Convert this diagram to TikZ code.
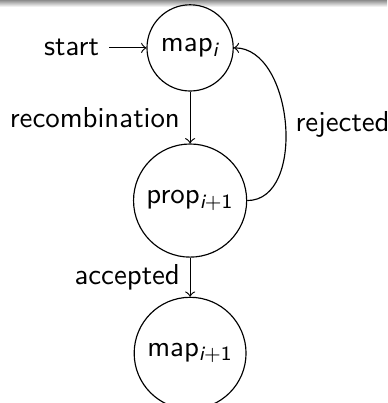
\documentclass[tikz,border=0pt]{standalone}
\usepackage{tikz}
\usetikzlibrary{positioning,automata}

\begin{document}
\begin{tikzpicture}[node distance=1.86cm,on grid,font=\sffamily]
  \useasboundingbox (-65.9pt,-123.1pt) rectangle (68.3pt,16.6pt);
  % header strip of the frame
  \shade[top color=black!45,bottom color=white] (-65.9pt,16.6pt) rectangle (68.3pt,14.2pt);
  \node[state,initial]   (map_i)                      {map\textsubscript{\itshape i}};
  \node[state]           (prop_i1) [below=of map_i]   {prop\textsubscript{\itshape i\upshape +1}};
  \node[state]           (map_i1)  [below=of prop_i1] {map\textsubscript{\itshape i\upshape +1}};
  \path[->] (map_i)   edge node[left] {recombination} (prop_i1)
            (prop_i1) edge node[left] {accepted} (map_i1)
            (prop_i1) edge[out=0,in=0] node[right] {rejected} (map_i);
\end{tikzpicture}
\end{document}
